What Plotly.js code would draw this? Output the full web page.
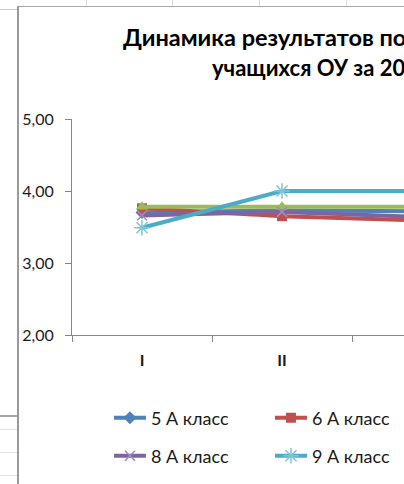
<!DOCTYPE html>
<html>
<head>
<meta charset="utf-8">
<script src="https://cdn.plot.ly/plotly-3.0.1.min.js"></script>
<style>
html, body { margin: 0; padding: 0; width: 404px; height: 484px; overflow: hidden; background: #ffffff; }
.deco { position: absolute; }
#chart { position: absolute; left: 0; top: 0; width: 640px; height: 484px; }
</style>
</head>
<body>
<!-- worksheet frame around the embedded chart -->
<div class="deco" style="left:86px;top:0;width:1px;height:6px;background:#dadada"></div>
<div class="deco" style="left:172px;top:0;width:1px;height:6px;background:#dadada"></div>
<div class="deco" style="left:259px;top:0;width:1px;height:6px;background:#dadada"></div>
<div class="deco" style="left:346px;top:0;width:1px;height:6px;background:#dadada"></div>
<div class="deco" style="left:0;top:9px;width:17px;height:1px;background:#c8c8c8"></div>
<div class="deco" style="left:0;top:415px;width:17px;height:2px;background:#a6a6a6"></div>
<div class="deco" style="left:0;top:429px;width:17px;height:1px;background:#e2e2e2"></div>
<div class="deco" style="left:0;top:452px;width:17px;height:1px;background:#e2e2e2"></div>
<div class="deco" style="left:0;top:475px;width:17px;height:1px;background:#e2e2e2"></div>
<div class="deco" style="left:17px;top:6px;width:420px;height:478px;background:#ffffff;border-left:2px solid #9a9a9a;border-top:1px solid #a6a6a6"></div>
<div id="chart"></div>
<script>
// ---- data ----
const categories = ["I", "II", "III"];
const seriesNames = ["5 А класс", "6 А класс", "7 А класс", "8 А класс", "9 А класс"];
const values5A = [3.70, 3.73, 3.72];
const values6A = [3.76, 3.65, 3.59];
const values7A = [3.78, 3.78, 3.78];
const values8A = [3.66, 3.71, 3.64];
const values9A = [3.49, 4.00, 4.00];
const yTickValues = [2, 3, 4, 5];
const titleLine1 = "Динамика результатов по";
const titleLine2 = "учащихся ОУ за 20";

const seriesValues = [values5A, values6A, values7A, values8A, values9A];
const colors = ["#4F81BD", "#C0504D", "#9BBB59", "#8064A2", "#4BACC6"];
const markers = [
  {symbol: "diamond", size: 10, color: "#4F81BD"},
  {symbol: "square", size: 10, color: "#C0504D"},
  {symbol: "triangle-up", size: 11, color: "#9BBB59"},
  {symbol: "x-thin-open", size: 10, color: "#9E8CC0", line: {color: "#9E8CC0", width: 1.5}},
  {symbol: "asterisk-open", size: 13, color: "#7FC6DA", line: {color: "#7FC6DA", width: 1.5}}
];
const legendOf = ["legend", "legend", "legend3", "legend2", "legend2"];

const traces = seriesValues.map((vals, i) => ({
  type: "scatter",
  mode: "lines+markers",
  name: seriesNames[i],
  x: categories,
  y: vals,
  line: {color: colors[i], width: 4},
  marker: markers[i],
  legend: legendOf[i],
  hoverinfo: "skip"
}));

const fontFam = "Lato, 'Liberation Sans', Arial, sans-serif";
const axisColor = "#868686";
const legendBase = {
  orientation: "h",
  xanchor: "left",
  yanchor: "middle",
  entrywidth: 114, entrywidthmode: "pixels",
  itemwidth: 32,
  bgcolor: "rgba(0,0,0,0)",
  font: {size: 18, family: fontFam, color: "#1a1a1a"}
};

const layout = {
  width: 640,
  height: 484,
  margin: {l: 72, r: 148, t: 119, b: 149, pad: 0, autoexpand: false},
  paper_bgcolor: "rgba(0,0,0,0)",
  plot_bgcolor: "rgba(0,0,0,0)",
  separators: ", ",
  font: {family: fontFam, color: "#1a1a1a"},
  showlegend: true,
  xaxis: {
    type: "category",
    range: [-0.5, 2.5],
    showgrid: false,
    zeroline: false,
    showline: true,
    linecolor: axisColor,
    linewidth: 1,
    ticks: "outside",
    tickson: "boundaries",
    ticklen: 6,
    tickcolor: axisColor,
    ticklabelstandoff: 11,
    tickfont: {size: 16, weight: "bold", color: "#1a1a1a", family: fontFam},
    fixedrange: true,
    automargin: false
  },
  yaxis: {
    range: [2, 5],
    tickvals: yTickValues,
    tickformat: ".2f",
    showgrid: false,
    zeroline: false,
    showline: true,
    linecolor: axisColor,
    linewidth: 1,
    ticks: "outside",
    ticklen: 6,
    tickcolor: axisColor,
    ticklabelstandoff: 8,
    tickfont: {size: 16, color: "#1a1a1a", family: fontFam},
    fixedrange: true,
    automargin: false
  },
  legend: Object.assign({}, legendBase, {x: 0.088, y: (335 - 418) / 216}),
  legend3: Object.assign({}, legendBase, {x: 0.088 + 318 / 420, y: (335 - 418) / 216}),
  legend2: Object.assign({}, legendBase, {x: 0.088, y: (335 - 456) / 216}),
  annotations: [
    {text: titleLine1, xref: "paper", yref: "paper", x: (121 - 72) / 420, y: (335 - 37) / 216,
     xanchor: "left", yanchor: "middle", showarrow: false,
     font: {size: 23.5, weight: "bold", family: fontFam, color: "#000000"}},
    {text: titleLine2, xref: "paper", yref: "paper", x: (210 - 72) / 420, y: (335 - 67) / 216,
     xanchor: "left", yanchor: "middle", showarrow: false,
     font: {size: 22, weight: "bold", family: fontFam, color: "#000000"}}
  ]
};

Plotly.newPlot("chart", traces, layout, {staticPlot: true, displayModeBar: false});
</script>
</body>
</html>
